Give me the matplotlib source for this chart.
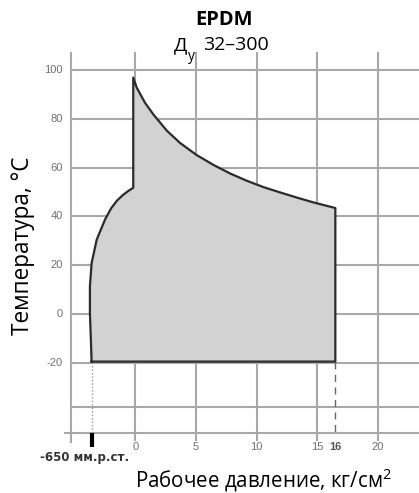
import matplotlib

matplotlib.use("Agg")
import matplotlib.pyplot as plt  # noqa: E402

plt.rcParams["font.family"] = ["Open Sans", "DejaVu Sans"]

# --------------------------------------------------------------------------- #
# Data
# --------------------------------------------------------------------------- #
# lower-left vacuum branch: from the -650 mm Hg point up to the 0 line
left_p = [-3.6, -3.66, -3.74, -3.74, -3.6, -3.18, -2.5, -2.0, -1.5, -1.0, -0.55, -0.165]
left_t = [-19.6, -10.7, 0.3, 11.2, 20.8, 30.4, 38.6, 43.2, 46.5, 48.8, 50.5, 51.7]
# upper branch: peak at 0 bar, falling off toward the max pressure
top_p = [-0.165, 0.12, 0.80, 1.49, 2.59, 3.69, 5.07, 6.44, 7.81, 9.19, 10.56,
         11.94, 13.32, 14.69, 16.5]
top_t = [96.9, 92.8, 86.6, 81.8, 75.2, 70.1, 65.1, 61.1, 57.6, 54.6, 52.0,
         49.8, 47.7, 45.7, 43.4]
t_min = -19.6
p_vac = -3.6   # the "-650 мм.р.ст." mark
p_max = 16.5   # drawn edge, labelled "16"

x_ticks = [0, 5, 10, 15, 20]
x_ticklabels = ["0", "5", "10", "15", "20"]
y_ticks = [100, 80, 60, 40, 20, 0, -20]
y_extra_grid = [-38.3]

XLIM = (-5.3, 23.4)
YLIM = (-48.9, 107)
GRID = "#a8a8a8"
TICK = "#707070"

fig = plt.figure(figsize=(4.19, 4.93), dpi=100)
ax = fig.add_axes([71 / 419, 60 / 493, 348 / 419, 380 / 493])
ax.set_xlim(*XLIM)
ax.set_ylim(*YLIM)
ax.axis("off")

# grid by hand: the lines poke past the frame as in the original
for x in x_ticks:
    ax.plot([x, x], [YLIM[0] - 2.8, YLIM[1]], color=GRID, lw=1.5, clip_on=False, zorder=1)
for y in y_ticks + y_extra_grid:
    ax.plot([XLIM[0], XLIM[1]], [y, y], color=GRID, lw=1.5, clip_on=False, zorder=1)
ax.plot([XLIM[0], XLIM[0]], [YLIM[0] - 3.5, YLIM[1]], color=GRID, lw=1.5, clip_on=False, zorder=1)
ax.plot([XLIM[0] - 0.5, XLIM[1]], [YLIM[0], YLIM[0]], color=GRID, lw=1.5, clip_on=False, zorder=1)

# working area
poly_p = left_p + top_p + [p_max, p_vac]
poly_t = left_t + top_t + [t_min, t_min]
ax.fill(poly_p, poly_t, color="#d2d2d2", zorder=2)
ax.plot(poly_p + [poly_p[0]], poly_t + [poly_t[0]], color="#2b2b2b", lw=1.6,
        solid_joinstyle="round", zorder=3)

# drop lines to the pressure axis
ax.plot([p_vac, p_vac], [t_min, YLIM[0]], color="#9a9a9a", lw=1.0, ls=(0, (1, 1.5)), zorder=2)
ax.plot([p_max, p_max], [t_min, YLIM[0]], color="#666666", lw=1.0, ls=(0, (5, 4)), zorder=2)
ax.plot([p_vac, p_vac], [YLIM[0], YLIM[0] - 5.8], color="black", lw=3, clip_on=False,
        solid_capstyle="butt", zorder=4)

# tick labels
for x, lab in zip(x_ticks, x_ticklabels):
    ax.text(x, YLIM[0] - 5.6, lab, ha="center", va="center", fontsize=8,
            color=TICK, family="Liberation Sans")
ax.text(p_max, YLIM[0] - 5.6, "16", ha="center", va="center", fontsize=8,
        color="#555555", family="Liberation Sans", fontweight="bold")
for y in y_ticks:
    ax.text(XLIM[0] - 0.7, y, str(y), ha="right", va="center", fontsize=8,
            color=TICK, family="Liberation Sans")
fig.text(85 / 419, 1 - 458 / 493, "-650 мм.р.ст.", ha="center", va="center", fontsize=8.5,
         color="#333333", family="Liberation Sans Narrow", fontweight="bold")

# titles and axis names
fig.text(224 / 419, 1 - 20 / 493, "EPDM", ha="center", va="center", fontsize=14.5,
         fontweight="bold")
fig.text(181 / 419, 1 - 45 / 493, "Д", ha="center", va="center", fontsize=14)
fig.text(191 / 419, 1 - 57 / 493, "у", ha="center", va="center", fontsize=10)
fig.text(236 / 419, 1 - 45 / 493, "32–300", ha="center", va="center", fontsize=14)
fig.text(23 / 419, 1 - 246 / 493, "Температура, °С", rotation=90, ha="center", va="center",
         fontsize=16.3)
fig.text(263 / 419, 1 - 480 / 493, "Рабочее давление, кг/см$^{\\mathregular{2}}$",
         ha="center", va="center", fontsize=14.8)

fig.savefig("out.png", dpi=100)
